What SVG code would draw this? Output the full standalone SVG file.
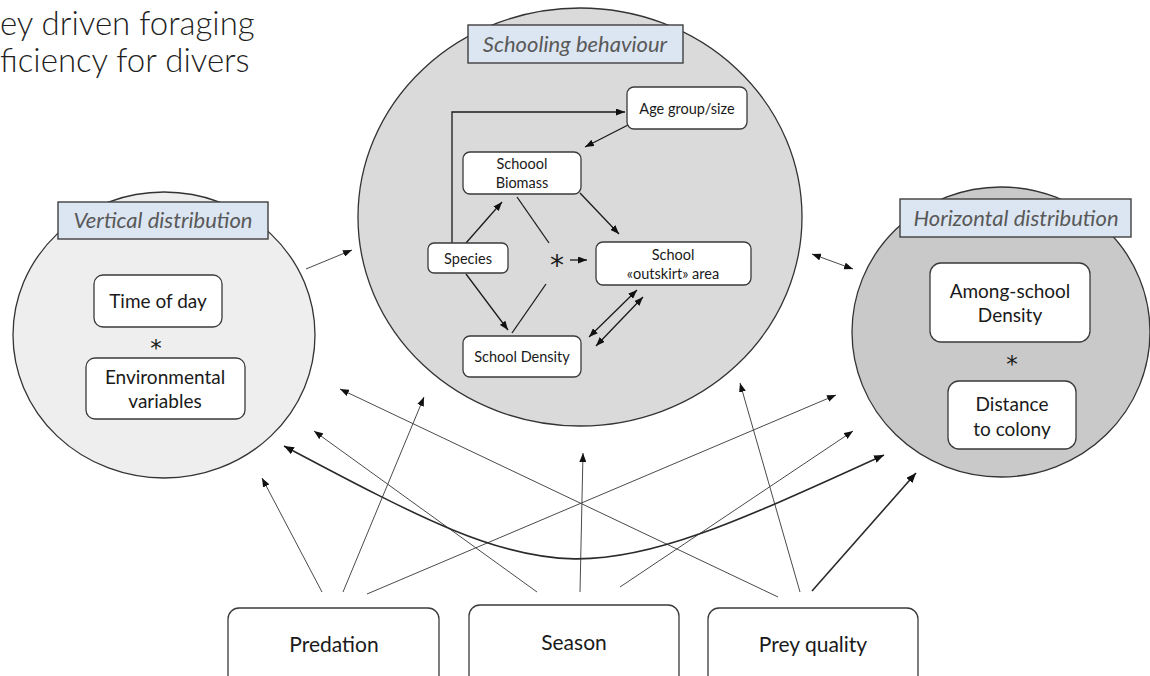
<svg xmlns="http://www.w3.org/2000/svg" width="1150" height="676" viewBox="0 0 1150 676">
<style>
  .title { font-family: Lato, "Open Sans", "Liberation Sans", sans-serif; font-weight: 300; font-size: 33px; fill: #1f1f1f; }
  .zone { stroke: #333; stroke-width: 1.3; }
  .lab { fill: #dce6f2; stroke: #3f3f3f; stroke-width: 1.4; }
  .labt { font-family: Lato, "Open Sans", "Liberation Sans", sans-serif; font-style: italic; fill: #595959; text-anchor: middle; }
  .box { fill: #ffffff; stroke: #3a3a3a; stroke-width: 1.3; }
  .t { font-family: Lato, "Open Sans", "Liberation Sans", sans-serif; fill: #1a1a1a; text-anchor: middle; }
  .star { font-family: "DejaVu Sans", sans-serif; fill: #1a1a1a; text-anchor: middle; }
  .c { fill: none; stroke: #1a1a1a; stroke-width: 1.3; }
  .g { fill: none; stroke: #4a4a4a; stroke-width: 1; }
  .gb { fill: none; stroke: #2a2a2a; stroke-width: 1.6; }
</style>
<defs>
  <marker id="ah" markerUnits="userSpaceOnUse" viewBox="0 0 10 8" refX="10" refY="4" markerWidth="10" markerHeight="8" orient="auto-start-reverse">
    <path d="M0,0 L10,4 L0,8 z" fill="#111"/>
  </marker>
  <marker id="ahs" markerUnits="userSpaceOnUse" viewBox="0 0 9 7" refX="9" refY="3.5" markerWidth="9" markerHeight="7" orient="auto-start-reverse">
    <path d="M0,0 L9,3.5 L0,7 z" fill="#111"/>
  </marker>
</defs>

<text class="title" x="0" y="35">ey driven foraging</text>
<text class="title" x="0" y="72">ficiency for divers</text>

<g id="vertical-distribution">
  <ellipse class="zone" cx="164" cy="335" rx="151" ry="143" fill="#eeeeee"/>
  <rect class="lab" x="58" y="202" width="210" height="37"/>
  <text class="labt" x="163" y="228" font-size="22">Vertical distribution</text>
</g>
<g id="schooling-behaviour">
  <ellipse class="zone" cx="580" cy="217" rx="222" ry="209" fill="#dadada"/>
  <rect class="lab" x="468" y="25" width="215" height="38"/>
  <text class="labt" x="575" y="52" font-size="22">Schooling behaviour</text>
</g>
<g id="horizontal-distribution">
  <ellipse class="zone" cx="1001" cy="332" rx="149" ry="145" fill="#c9c9c9"/>
  <rect class="lab" x="900" y="199" width="231" height="38"/>
  <text class="labt" x="1016" y="226" font-size="22">Horizontal distribution</text>
</g>

<g id="connectors">
  <polyline class="c" points="452,243 452,112 625,112" marker-end="url(#ahs)"/>
  <line class="c" x1="628" y1="125" x2="585" y2="147" marker-end="url(#ahs)"/>
  <line class="c" x1="466" y1="243" x2="502" y2="202" marker-end="url(#ahs)"/>
  <line class="c" x1="517" y1="197" x2="549" y2="243"/>
  <line class="c" x1="580" y1="193" x2="619" y2="234" marker-end="url(#ahs)"/>
  <line class="c" x1="570" y1="260" x2="587" y2="260" marker-end="url(#ahs)"/>
  <line class="c" x1="466" y1="274" x2="508" y2="330" marker-end="url(#ahs)"/>
  <line class="c" x1="546" y1="284" x2="512" y2="333"/>
  <line class="c" x1="589" y1="337" x2="637" y2="290" marker-start="url(#ahs)" marker-end="url(#ahs)"/>
  <line class="c" x1="596" y1="346" x2="643" y2="297" marker-start="url(#ahs)" marker-end="url(#ahs)"/>
  <line class="g" x1="306" y1="269" x2="352" y2="250" marker-end="url(#ahs)"/>
  <line class="g" x1="812" y1="254" x2="853" y2="269" marker-start="url(#ahs)" marker-end="url(#ahs)"/>
  <line class="g" x1="322" y1="592" x2="262" y2="478" marker-end="url(#ahs)"/>
  <line class="g" x1="343" y1="592" x2="424" y2="397" marker-end="url(#ahs)"/>
  <line class="g" x1="367" y1="594" x2="836" y2="395" marker-end="url(#ahs)"/>
  <line class="g" x1="537" y1="592" x2="314" y2="431" marker-end="url(#ahs)"/>
  <line class="g" x1="580" y1="592" x2="583" y2="453" marker-end="url(#ahs)"/>
  <line class="g" x1="620" y1="587" x2="853" y2="431" marker-end="url(#ahs)"/>
  <line class="g" x1="778" y1="597" x2="340" y2="389" marker-end="url(#ahs)"/>
  <line class="g" x1="800" y1="592" x2="740" y2="383" marker-end="url(#ahs)"/>
  <line class="gb" x1="812" y1="591" x2="916" y2="473" marker-end="url(#ah)"/>
  <path class="gb" d="M284,446 C564,595 578,595 884,455" marker-start="url(#ah)" marker-end="url(#ah)"/>
</g>

<g id="time-of-day">
  <rect class="box" x="94" y="275" width="128" height="52" rx="9"/>
  <text class="t" x="158" y="308" font-size="19">Time of day</text>
</g>
<text class="star" x="156" y="356" font-size="23">*</text>
<g id="environmental-variables">
  <rect class="box" x="86" y="358" width="159" height="61" rx="9"/>
  <text class="t" x="165" y="384" font-size="19">Environmental</text>
  <text class="t" x="165" y="408" font-size="19">variables</text>
</g>

<g id="age-group">
  <rect class="box" x="627" y="87" width="120" height="42" rx="7"/>
  <text class="t" x="687" y="114" font-size="14.5">Age group/size</text>
</g>
<g id="school-biomass">
  <rect class="box" x="463" y="152" width="118" height="42" rx="7"/>
  <text class="t" x="522" y="169" font-size="14.5">Schoool</text>
  <text class="t" x="522" y="188" font-size="14.5">Biomass</text>
</g>
<g id="species">
  <rect class="box" x="428" y="243" width="80" height="30" rx="6"/>
  <text class="t" x="468" y="264" font-size="14.5">Species</text>
</g>
<text class="star" x="557" y="275" font-size="28">*</text>
<g id="school-outskirt">
  <rect class="box" x="596" y="242" width="155" height="43" rx="7"/>
  <text class="t" x="673" y="260" font-size="14.5">School</text>
  <text class="t" x="673" y="279" font-size="14.5">«outskirt» area</text>
</g>
<g id="school-density">
  <rect class="box" x="463" y="336" width="118" height="41" rx="7"/>
  <text class="t" x="522" y="362" font-size="14.5">School Density</text>
</g>

<g id="among-school-density">
  <rect class="box" x="930" y="263" width="160" height="79" rx="11"/>
  <text class="t" x="1010" y="298" font-size="19">Among-school</text>
  <text class="t" x="1010" y="322" font-size="19">Density</text>
</g>
<text class="star" x="1012" y="372" font-size="23">*</text>
<g id="distance-to-colony">
  <rect class="box" x="948" y="381" width="128" height="68" rx="11"/>
  <text class="t" x="1012" y="411" font-size="19">Distance</text>
  <text class="t" x="1012" y="436" font-size="19">to colony</text>
</g>

<g id="predation">
  <rect class="box" x="228" y="608" width="211" height="82" rx="11"/>
  <text class="t" x="334" y="652" font-size="21">Predation</text>
</g>
<g id="season">
  <rect class="box" x="469" y="605" width="210" height="85" rx="11"/>
  <text class="t" x="574" y="650" font-size="21">Season</text>
</g>
<g id="prey-quality">
  <rect class="box" x="708" y="608" width="210" height="82" rx="11"/>
  <text class="t" x="813" y="652" font-size="21">Prey quality</text>
</g>
</svg>
